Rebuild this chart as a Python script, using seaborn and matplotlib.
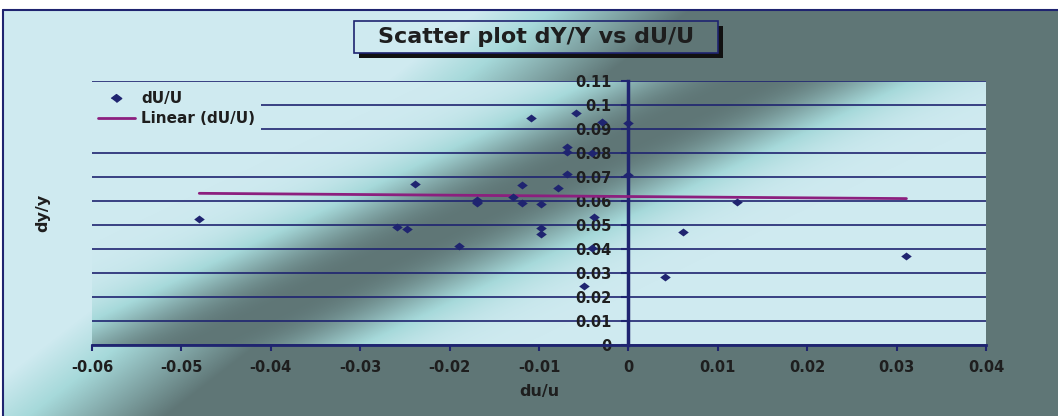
import numpy as np
import pandas as pd
import matplotlib
matplotlib.use('Agg')
import matplotlib.pyplot as plt
from matplotlib.colors import LinearSegmentedColormap
from matplotlib.lines import Line2D
from matplotlib.patches import Rectangle
import seaborn as sns

# values
du_u = [-0.0480, -0.0259, -0.0248, -0.0239, -0.0190, -0.0169, -0.0169, -0.0169,
        -0.0129, -0.0119, -0.0119, -0.0109, -0.0098, -0.0098, -0.0098, -0.0079,
        -0.0069, -0.0069, -0.0069, -0.0059, -0.0050, -0.0041, -0.0039, -0.0041,
        -0.0029, 0.0000, 0.0000, 0.0041, 0.0061, 0.0121, 0.0311]
dy_y = [0.0525, 0.0490, 0.0482, 0.0670, 0.0411, 0.0605, 0.0595, 0.0590,
        0.0617, 0.0665, 0.0590, 0.0947, 0.0586, 0.0486, 0.0463, 0.0656,
        0.0826, 0.0804, 0.0713, 0.0965, 0.0244, 0.0799, 0.0533, 0.0403,
        0.0930, 0.0925, 0.0708, 0.0285, 0.0472, 0.0595, 0.0371]

# linear trendline ends (Excel "Linear (dU/U)")
trend_x = [-0.0480, 0.0311]
trend_y = [0.0632, 0.0610]

x_ticks = [-0.06, -0.05, -0.04, -0.03, -0.02, -0.01, 0.0, 0.01, 0.02, 0.03, 0.04]
x_tick_labels = ['-0.06', '-0.05', '-0.04', '-0.03', '-0.02', '-0.01', '0',
                 '0.01', '0.02', '0.03', '0.04']
y_ticks = [0.0, 0.01, 0.02, 0.03, 0.04, 0.05, 0.06, 0.07, 0.08, 0.09, 0.10, 0.11]
y_tick_labels = ['0', '0.01', '0.02', '0.03', '0.04', '0.05', '0.06', '0.07',
                 '0.08', '0.09', '0.1', '0.11']

title = 'Scatter plot dY/Y vs dU/U'
series_label = 'dU/U'
trend_label = 'Linear (dU/U)'

W, H = 1058, 416
NAVY = '#1f2470'
PURPLE = '#8c1f7e'
LIGHT = '#cfeaf0'
TEAL = '#a6d9da'
DARK = '#5f7676'
TXT = '#1e1e1e'

cmap = LinearSegmentedColormap.from_list('bg', [(0, LIGHT), (0.35, TEAL), (1, DARK)])


def fx(px):
    return px / W


def fy(py):
    return 1 - py / H


sns.set_theme(style='white')
plt.rcParams['font.family'] = ['DejaVu Sans']

fig = plt.figure(figsize=(W / 100, H / 100), dpi=100)
fig.patch.set_facecolor('white')

# outer chart background: diagonal light -> dark
bg = fig.add_axes([fx(3), 0, 1 - fx(3), fy(10)])
yy, xx = np.mgrid[10:H, 3:W]
s = (xx * 406 + yy * 525) / 663.7
bg.imshow(np.clip((s - 300) / 130, 0, 1), cmap=cmap, vmin=0, vmax=1,
          aspect='auto', extent=[0, 1, 0, 1])
bg.axis('off')
fig.add_artist(Line2D([fx(3), 1], [fy(10), fy(10)], transform=fig.transFigure,
                      color=NAVY, lw=1.5))
fig.add_artist(Line2D([fx(3), fx(3)], [0, fy(10)], transform=fig.transFigure,
                      color=NAVY, lw=1.5))

# plot area with its dark diagonal band
ax = fig.add_axes([fx(92), fy(345), fx(894), 264 / H])
yy, xx = np.mgrid[81:345, 92:986]
u = (xx - 200) * 0.432 + (yy - 345) * 0.902
ax.imshow(np.exp(-(np.abs(u) / 68.0) ** 2.4), cmap=cmap, vmin=0, vmax=1, aspect='auto',
          extent=[x_ticks[0], x_ticks[-1], y_ticks[0], y_ticks[-1]], zorder=0)

df = pd.DataFrame({'du/u': du_u, 'dy/y': dy_y})
diamond = [(-1, 0), (0, 0.75), (1, 0), (0, -0.75)]
sns.scatterplot(data=df, x='du/u', y='dy/y', marker=diamond, s=58, color=NAVY,
                edgecolor=NAVY, linewidth=0, ax=ax, zorder=4, legend=False)
sns.lineplot(x=trend_x, y=trend_y, color=PURPLE, lw=2, ax=ax, zorder=3, legend=False)

ax.set_xlim(x_ticks[0], x_ticks[-1])
ax.set_ylim(y_ticks[0], y_ticks[-1])
ax.set_xticks(x_ticks, x_tick_labels)
ax.set_yticks(y_ticks, y_tick_labels)
ax.set_axisbelow(True)
ax.grid(axis='y', color=NAVY, lw=1.2)
ax.grid(axis='x', visible=False)

for side in ['top', 'right']:
    ax.spines[side].set_visible(False)
ax.spines['left'].set_position(('data', 0))
ax.spines['left'].set_color(NAVY)
ax.spines['left'].set_linewidth(2.5)
ax.spines['bottom'].set_color(NAVY)
ax.spines['bottom'].set_linewidth(2)

ax.tick_params(axis='x', bottom=True, direction='out', length=4, width=1.5,
               color=NAVY, pad=7, labelsize=10.5, labelcolor=TXT)
ax.tick_params(axis='y', left=True, direction='out', length=5, width=1.5,
               color=NAVY, pad=7, labelsize=10.5, labelcolor=TXT)
for lab in ax.get_xticklabels() + ax.get_yticklabels():
    lab.set_fontweight('bold')

ax.set_xlabel('du/u', fontsize=11.5, fontweight='bold', color=TXT)
ax.xaxis.set_label_coords(0.5, (345 - 384) / 264)
ax.set_ylabel('dy/y', fontsize=11.5, fontweight='bold', color=TXT)
ax.yaxis.set_label_coords((50 - 92) / 894, 0.5)

handles = [Line2D([], [], marker=diamond, ls='', color=NAVY, markersize=7.5),
           Line2D([], [], color=PURPLE, lw=2)]
leg = ax.legend(handles, [series_label, trend_label], loc='upper left',
                bbox_to_anchor=(0.0, 0.985), borderaxespad=0, frameon=True,
                facecolor=LIGHT, edgecolor='none', framealpha=1, fancybox=False,
                prop={'weight': 'bold', 'size': 11}, handlelength=2.4,
                borderpad=0.4, labelspacing=0.35, handletextpad=0.4)
for t in leg.get_texts():
    t.set_color(TXT)

# title box with drop shadow
fig.add_artist(Rectangle((fx(718), fy(58)), fx(5), 32 / H, transform=fig.transFigure,
                         facecolor='#111111', edgecolor='none'))
fig.add_artist(Rectangle((fx(359), fy(58)), fx(364), 5 / H, transform=fig.transFigure,
                         facecolor='#111111', edgecolor='none'))
fig.add_artist(Rectangle((fx(354), fy(53)), fx(364), 32 / H, transform=fig.transFigure,
                         facecolor='none', edgecolor=NAVY, lw=1.2))
fig.text(fx(536), fy(37), title, ha='center', va='center', fontsize=16,
         fontweight='bold', color=TXT)

fig.savefig('out.png', dpi=100)
